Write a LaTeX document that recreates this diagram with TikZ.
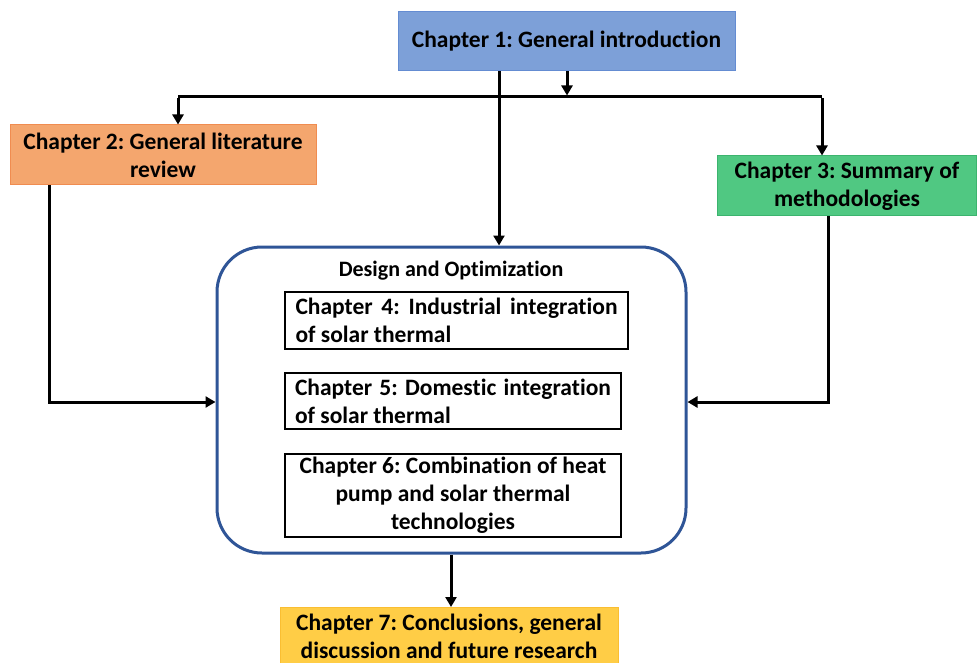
\documentclass[tikz,border=0pt]{standalone}
\usepackage{fontspec}
\setmainfont{Carlito}[Ligatures=NoCommon]
\usetikzlibrary{arrows.meta,calc}
\definecolor{cOne}{RGB}{125,160,216}
\definecolor{cOneB}{RGB}{100,140,210}
\definecolor{cTwo}{RGB}{244,166,110}
\definecolor{cTwoB}{RGB}{240,140,80}
\definecolor{cThree}{RGB}{80,200,130}
\definecolor{cThreeB}{RGB}{60,180,110}
\definecolor{cSeven}{RGB}{255,205,70}
\definecolor{cSevenB}{RGB}{250,190,50}
\definecolor{cBig}{RGB}{47,85,151}
\tikzset{
  chap/.style={draw, line width=1pt, inner sep=0pt, align=center, font=\fontsize{23.5}{28}\selectfont\bfseries\frenchspacing},
  inbox/.style={draw=black, line width=1.2pt, inner sep=0pt, font=\fontsize{23.5}{28}\selectfont\bfseries\frenchspacing},
  arr/.style={line width=3pt, line join=miter, -{Triangle[length=10pt,width=11pt]}},
  ln/.style={line width=3pt, line join=miter}
}
\begin{document}
\begin{tikzpicture}[x=1pt,y=-1pt]
\useasboundingbox (0,0) rectangle (977,663);
\clip (0,0) rectangle (977,663);
% nodes
\node[chap, fill=cOne, draw=cOneB, minimum width=337pt, minimum height=59pt] (ch1) at (566.5,41.5) {Chapter 1: General introduction};
\node[chap, fill=cTwo, draw=cTwoB, minimum width=306pt, minimum height=60pt] (ch2) at (163,155) {Chapter 2: General literature\\review};
\node[chap, fill=cThree, draw=cThreeB, minimum width=259pt, minimum height=60pt] (ch3) at (847,186) {Chapter 3: Summary of\\methodologies};
\node[draw=cBig, line width=3pt, rounded corners=45pt, minimum width=469pt, minimum height=306pt] (big) at (451.5,400) {};
\node[font=\fontsize{22}{26}\selectfont\bfseries] (title) at (451,271) {Design and Optimization};
\node[inbox, minimum width=343pt, minimum height=57pt, text width=322pt, align=justify] (ch4) at (456.5,320.5) {Chapter 4: Industrial integration\linebreak of solar thermal};
\node[inbox, minimum width=336pt, minimum height=56pt, text width=316pt, align=justify] (ch5) at (453,401) {Chapter 5: Domestic integration\linebreak of solar thermal};
\node[inbox, minimum width=336pt, minimum height=83pt, align=center] (ch6) at (453,495.5) {Chapter 6: Combination of heat\\pump and solar thermal\\technologies};
\node[chap, fill=cSeven, draw=cSevenB, minimum width=338pt, minimum height=58pt, anchor=north] (ch7) at (449,607) {Chapter 7: Conclusions, general\\discussion and future research};
% helper coordinates
\coordinate (jm) at (567,97);
\coordinate (jl) at (178,97);
\coordinate (jr) at (822,97);
\coordinate (xa) at (499,0);
\coordinate (xb) at (567,0);
\coordinate (xc) at (49,0);
\coordinate (xd) at (828,0);
\coordinate (xe) at (451,0);
\coordinate (yb) at (0,402);
% connectors
\draw[arr] (ch1.south -| xa) -- (big.north -| xa);
\draw[arr] (ch1.south -| xb) -- ([yshift=1.5pt]jm);
\draw[ln] (jl) -- (jr);
\draw[arr] ([yshift=-1.5pt]jl) -- (ch2.north -| jl);
\draw[arr] ([yshift=-1.5pt]jr) -- (ch3.north -| jr);
\draw[arr] (ch2.south -| xc) -- (xc |- yb) -- (big.west |- yb);
\draw[arr] (ch3.south -| xd) -- (xd |- yb) -- (big.east |- yb);
\draw[arr] (big.south -| xe) -- (ch7.north -| xe);
\end{tikzpicture}
\end{document}
